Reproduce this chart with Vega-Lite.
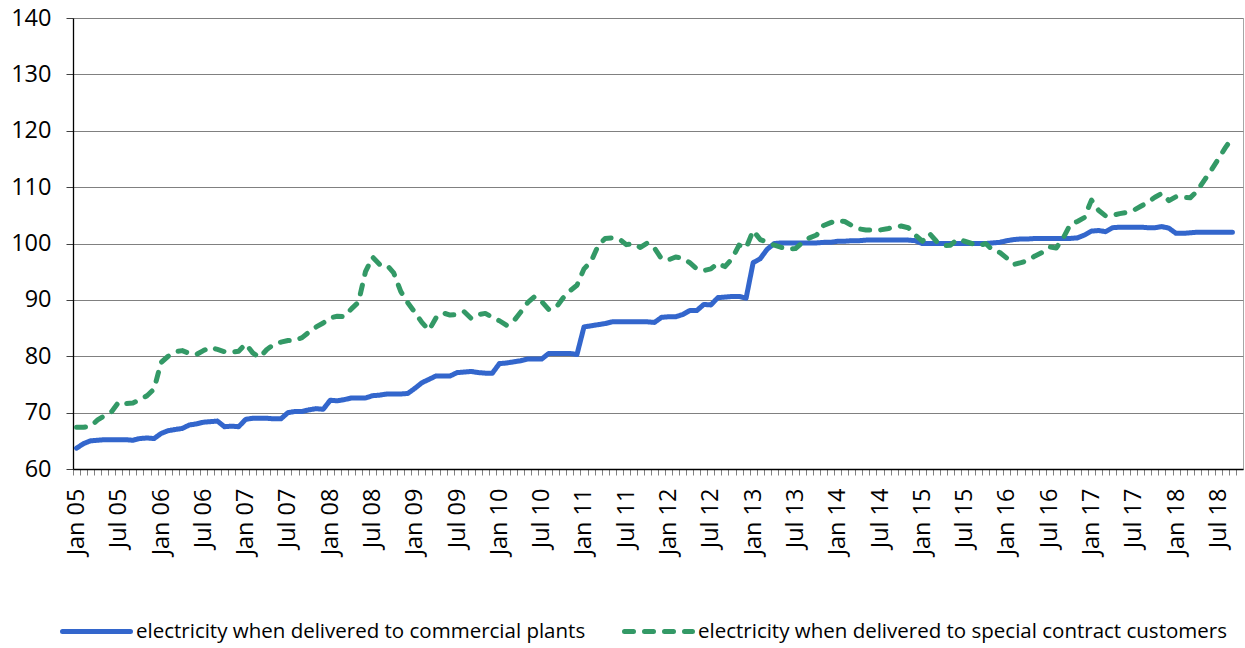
{
  "$schema": "https://vega.github.io/schema/vega-lite/v6.json",
  "width": 1170,
  "height": 451,
  "autosize": "none",
  "padding": {"left": 73, "top": 18, "right": 2, "bottom": 179},
  "background": "white",
  "config": {"view": {"stroke": "#a6a6a6", "strokeWidth": 1}, "font": "Open Sans"},
  "data": {"values": [
    {"m":"Jan 05","c":63.7,"s":67.4},{"m":"Feb 05","c":64.5,"s":67.4},{"m":"Mar 05","c":65.0,"s":67.6},{"m":"Apr 05","c":65.1,"s":68.7},{"m":"May 05","c":65.2,"s":69.5},{"m":"Jun 05","c":65.2,"s":70.2},{"m":"Jul 05","c":65.2,"s":71.9},{"m":"Aug 05","c":65.2,"s":71.6},{"m":"Sep 05","c":65.1,"s":71.7},{"m":"Oct 05","c":65.4,"s":72.3},{"m":"Nov 05","c":65.5,"s":73.0},{"m":"Dec 05","c":65.4,"s":74.2},
    {"m":"Jan 06","c":66.3,"s":78.9},{"m":"Feb 06","c":66.8,"s":80.0},{"m":"Mar 06","c":67.0,"s":80.8},{"m":"Apr 06","c":67.2,"s":81.0},{"m":"May 06","c":67.8,"s":80.5},{"m":"Jun 06","c":68.0,"s":80.3},{"m":"Jul 06","c":68.3,"s":81.0},{"m":"Aug 06","c":68.4,"s":81.6},{"m":"Sep 06","c":68.5,"s":81.2},{"m":"Oct 06","c":67.5,"s":80.8},{"m":"Nov 06","c":67.6,"s":80.7},{"m":"Dec 06","c":67.5,"s":80.9},
    {"m":"Jan 07","c":68.8,"s":82.2},{"m":"Feb 07","c":69.0,"s":80.6},{"m":"Mar 07","c":69.0,"s":79.8},{"m":"Apr 07","c":69.0,"s":81.2},{"m":"May 07","c":68.9,"s":82.1},{"m":"Jun 07","c":68.9,"s":82.5},{"m":"Jul 07","c":70.0,"s":82.8},{"m":"Aug 07","c":70.2,"s":82.8},{"m":"Sep 07","c":70.2,"s":83.3},{"m":"Oct 07","c":70.5,"s":84.3},{"m":"Nov 07","c":70.7,"s":85.2},{"m":"Dec 07","c":70.6,"s":85.9},
    {"m":"Jan 08","c":72.2,"s":86.8},{"m":"Feb 08","c":72.1,"s":87.1},{"m":"Mar 08","c":72.3,"s":87.0},{"m":"Apr 08","c":72.6,"s":88.4},{"m":"May 08","c":72.6,"s":89.6},{"m":"Jun 08","c":72.6,"s":95.0},{"m":"Jul 08","c":73.0,"s":97.6},{"m":"Aug 08","c":73.1,"s":96.3},{"m":"Sep 08","c":73.3,"s":96.2},{"m":"Oct 08","c":73.3,"s":94.8},{"m":"Nov 08","c":73.3,"s":91.5},{"m":"Dec 08","c":73.4,"s":89.5},
    {"m":"Jan 09","c":74.3,"s":87.8},{"m":"Feb 09","c":75.3,"s":86.0},{"m":"Mar 09","c":75.9,"s":84.6},{"m":"Apr 09","c":76.5,"s":86.8},{"m":"May 09","c":76.5,"s":87.7},{"m":"Jun 09","c":76.5,"s":87.3},{"m":"Jul 09","c":77.1,"s":87.4},{"m":"Aug 09","c":77.2,"s":87.9},{"m":"Sep 09","c":77.3,"s":86.7},{"m":"Oct 09","c":77.1,"s":87.4},{"m":"Nov 09","c":77.0,"s":87.6},{"m":"Dec 09","c":77.0,"s":86.9},
    {"m":"Jan 10","c":78.7,"s":86.3},{"m":"Feb 10","c":78.8,"s":85.5},{"m":"Mar 10","c":79.0,"s":86.2},{"m":"Apr 10","c":79.2,"s":87.8},{"m":"May 10","c":79.5,"s":89.5},{"m":"Jun 10","c":79.5,"s":90.6},{"m":"Jul 10","c":79.5,"s":89.7},{"m":"Aug 10","c":80.5,"s":88.3},{"m":"Sep 10","c":80.5,"s":88.6},{"m":"Oct 10","c":80.5,"s":90.3},{"m":"Nov 10","c":80.5,"s":91.6},{"m":"Dec 10","c":80.3,"s":92.6},
    {"m":"Jan 11","c":85.2,"s":95.5},{"m":"Feb 11","c":85.4,"s":96.8},{"m":"Mar 11","c":85.6,"s":99.6},{"m":"Apr 11","c":85.8,"s":100.9},{"m":"May 11","c":86.1,"s":101.0},{"m":"Jun 11","c":86.1,"s":100.8},{"m":"Jul 11","c":86.1,"s":99.8},{"m":"Aug 11","c":86.1,"s":100.0},{"m":"Sep 11","c":86.1,"s":99.3},{"m":"Oct 11","c":86.1,"s":100.1},{"m":"Nov 11","c":86.0,"s":99.2},{"m":"Dec 11","c":86.9,"s":97.3},
    {"m":"Jan 12","c":87.0,"s":97.1},{"m":"Feb 12","c":87.0,"s":97.6},{"m":"Mar 12","c":87.4,"s":97.4},{"m":"Apr 12","c":88.1,"s":96.6},{"m":"May 12","c":88.1,"s":95.5},{"m":"Jun 12","c":89.2,"s":95.2},{"m":"Jul 12","c":89.1,"s":95.5},{"m":"Aug 12","c":90.4,"s":96.5},{"m":"Sep 12","c":90.5,"s":95.9},{"m":"Oct 12","c":90.6,"s":97.3},{"m":"Nov 12","c":90.6,"s":99.7},{"m":"Dec 12","c":90.3,"s":99.2},
    {"m":"Jan 13","c":96.6,"s":102.3},{"m":"Feb 13","c":97.3,"s":100.7},{"m":"Mar 13","c":99.0,"s":100.2},{"m":"Apr 13","c":100.0,"s":99.7},{"m":"May 13","c":100.1,"s":99.3},{"m":"Jun 13","c":100.1,"s":99.0},{"m":"Jul 13","c":100.1,"s":99.1},{"m":"Aug 13","c":100.1,"s":100.2},{"m":"Sep 13","c":100.1,"s":101.0},{"m":"Oct 13","c":100.1,"s":101.5},{"m":"Nov 13","c":100.2,"s":103.2},{"m":"Dec 13","c":100.2,"s":103.7},
    {"m":"Jan 14","c":100.4,"s":104.1},{"m":"Feb 14","c":100.4,"s":103.9},{"m":"Mar 14","c":100.5,"s":103.2},{"m":"Apr 14","c":100.5,"s":102.6},{"m":"May 14","c":100.6,"s":102.4},{"m":"Jun 14","c":100.6,"s":102.4},{"m":"Jul 14","c":100.6,"s":102.4},{"m":"Aug 14","c":100.6,"s":102.6},{"m":"Sep 14","c":100.6,"s":102.9},{"m":"Oct 14","c":100.6,"s":103.1},{"m":"Nov 14","c":100.6,"s":102.8},{"m":"Dec 14","c":100.5,"s":101.5},
    {"m":"Jan 15","c":100.0,"s":100.4},{"m":"Feb 15","c":100.0,"s":101.8},{"m":"Mar 15","c":100.0,"s":100.4},{"m":"Apr 15","c":100.0,"s":99.6},{"m":"May 15","c":100.0,"s":99.7},{"m":"Jun 15","c":100.0,"s":100.8},{"m":"Jul 15","c":100.0,"s":100.4},{"m":"Aug 15","c":100.0,"s":100.0},{"m":"Sep 15","c":100.0,"s":99.6},{"m":"Oct 15","c":100.0,"s":100.0},{"m":"Nov 15","c":100.1,"s":98.8},{"m":"Dec 15","c":100.2,"s":98.4},
    {"m":"Jan 16","c":100.5,"s":97.4},{"m":"Feb 16","c":100.7,"s":96.3},{"m":"Mar 16","c":100.8,"s":96.6},{"m":"Apr 16","c":100.8,"s":97.0},{"m":"May 16","c":100.9,"s":97.8},{"m":"Jun 16","c":100.9,"s":98.4},{"m":"Jul 16","c":100.9,"s":99.4},{"m":"Aug 16","c":100.9,"s":99.2},{"m":"Sep 16","c":100.9,"s":101.0},{"m":"Oct 16","c":100.9,"s":103.4},{"m":"Nov 16","c":101.0,"s":103.9},{"m":"Dec 16","c":101.5,"s":104.6},
    {"m":"Jan 17","c":102.2,"s":107.7},{"m":"Feb 17","c":102.3,"s":105.9},{"m":"Mar 17","c":102.1,"s":104.9},{"m":"Apr 17","c":102.8,"s":105.0},{"m":"May 17","c":102.9,"s":105.3},{"m":"Jun 17","c":102.9,"s":105.5},{"m":"Jul 17","c":102.9,"s":105.9},{"m":"Aug 17","c":102.9,"s":106.6},{"m":"Sep 17","c":102.8,"s":107.3},{"m":"Oct 17","c":102.8,"s":108.2},{"m":"Nov 17","c":103.0,"s":108.9},{"m":"Dec 17","c":102.7,"s":107.6},
    {"m":"Jan 18","c":101.8,"s":108.3},{"m":"Feb 18","c":101.8,"s":108.2},{"m":"Mar 18","c":101.9,"s":108.1},{"m":"Apr 18","c":102.0,"s":109.3},{"m":"May 18","c":102.0,"s":111.2},{"m":"Jun 18","c":102.0,"s":113.0},{"m":"Jul 18","c":102.0,"s":115.0},{"m":"Aug 18","c":102.0,"s":117.0},{"m":"Sep 18","c":102.0,"s":118.8}
  ]},
  "transform": [{"fold": ["c", "s"], "as": ["series", "value"]}],
  "mark": {"type": "line", "strokeWidth": 5, "strokeCap": "round", "strokeJoin": "round"},
  "encoding": {
    "x": {
      "field": "m", "type": "ordinal", "sort": null, "bandPosition": 0.5,
      "scale": {"type": "band", "paddingInner": 0, "paddingOuter": 0.5, "align": 0},
      "axis": {
        "title": null, "labelAngle": -90, "labelFont": "Open Sans", "labelFontSize": 23.5, "labelColor": "#000",
        "labelExpr": "substring(datum.value,0,3)=='Jan' || substring(datum.value,0,3)=='Jul' ? datum.value : ''",
        "labelOverlap": false, "labelBound": false, "labelPadding": 13,
        "tickBand": "extent", "tickSize": 6, "tickColor": "#808080", "tickWidth": 1,
        "domainColor": "#000", "domainWidth": 1.3, "grid": false
      }
    },
    "y": {
      "field": "value", "type": "quantitative",
      "scale": {"domain": [60, 140], "nice": false, "zero": false},
      "axis": {
        "title": null, "values": [60, 70, 80, 90, 100, 110, 120, 130, 140],
        "labelFont": "Open Sans", "labelFontSize": 23.5, "labelColor": "#000", "labelPadding": 15,
        "tickSize": 7, "tickColor": "#404040", "domainColor": "#000", "domainWidth": 1.3,
        "grid": true, "gridColor": "#808080", "gridWidth": 1
      }
    },
    "color": {
      "field": "series", "type": "nominal",
      "scale": {"domain": ["c", "s"], "range": ["#3366cc", "#339966"]},
      "legend": {
        "title": null, "orient": "none", "legendX": -13, "legendY": 577, "direction": "horizontal",
        "symbolType": "stroke", "symbolSize": 4624, "symbolStrokeWidth": 5,
        "labelFont": "Open Sans", "labelFontSize": 20.5, "labelColor": "#000", "labelOffset": 3, "labelLimit": 0,
        "columnPadding": 28, "padding": 0,
        "labelExpr": "datum.value == 'c' ? 'electricity when delivered to commercial plants' : 'electricity when delivered to special contract customers'",
        "encode": {"symbols": {"update": {"strokeCap": {"value": "round"}}}}
      }
    },
    "strokeDash": {
      "field": "series", "type": "nominal",
      "scale": {"domain": ["c", "s"], "range": [[1, 0], [9, 11]]},
      "legend": {
        "title": null, "orient": "none", "legendX": -13, "legendY": 577, "direction": "horizontal",
        "symbolType": "stroke", "symbolSize": 4624, "symbolStrokeWidth": 5,
        "labelFont": "Open Sans", "labelFontSize": 20.5, "labelColor": "#000", "labelOffset": 3, "labelLimit": 0,
        "columnPadding": 28, "padding": 0,
        "labelExpr": "datum.value == 'c' ? 'electricity when delivered to commercial plants' : 'electricity when delivered to special contract customers'",
        "encode": {"symbols": {"update": {"strokeCap": {"value": "round"}}}}
      }
    }
  }
}
